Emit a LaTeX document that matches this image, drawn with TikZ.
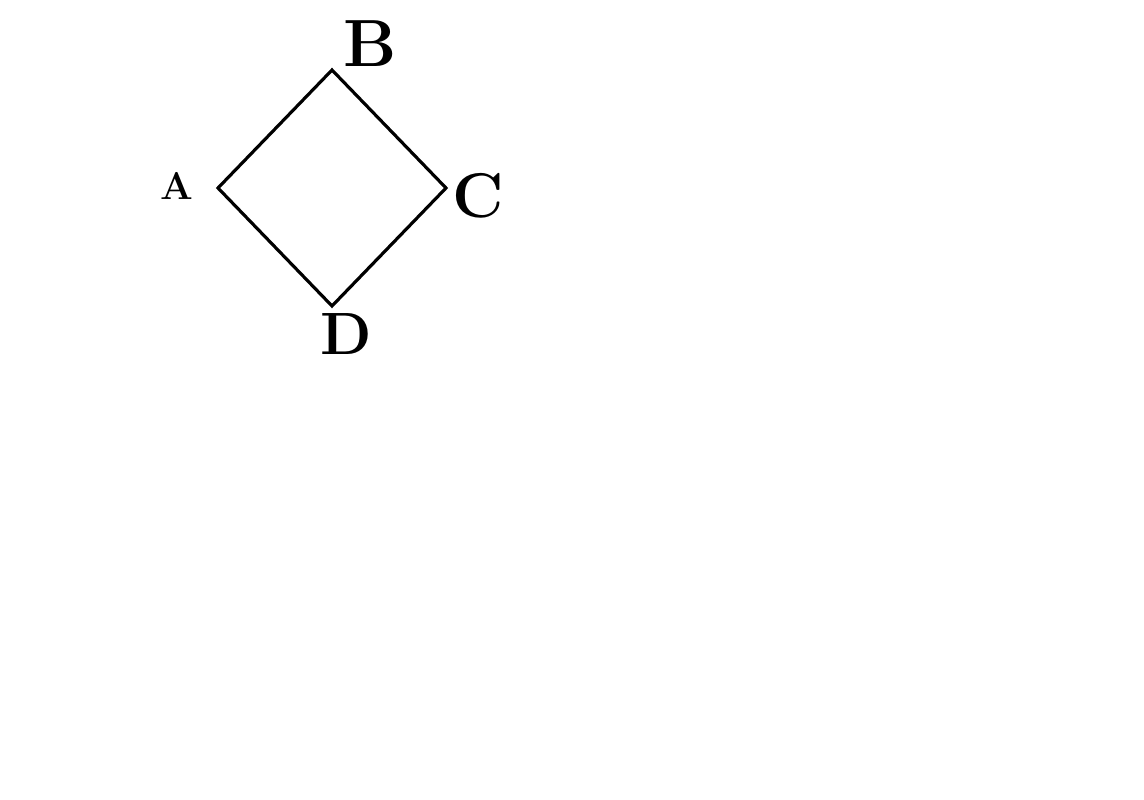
\documentclass[tikz,border=0pt]{standalone}
\begin{document}
\begin{tikzpicture}[x=0.02cm,y=-0.02cm,
  edge/.style={line width=1.8pt,line join=miter},
  lbl/.style={inner sep=0pt,font=\bfseries\fontsize{30}{32}\selectfont}]
\useasboundingbox[fill=white] (0,0) rectangle (1144,800);
\coordinate (a) at (218,188);
\coordinate (b) at (332,70);
\coordinate (c) at (446,188);
\coordinate (d) at (332,306);
\draw[edge] (a) -- (b) -- (c) -- (d) -- cycle;
\node[lbl,font=\bfseries\fontsize{22}{24}\selectfont] (la) at (177,186) {A};
\node[lbl,font=\bfseries\fontsize{38}{40}\selectfont] (lb) at (370,44) {B};
\node[lbl,font=\bfseries\fontsize{36}{38}\selectfont] (lc) at (478,196) {C};
\node[lbl,font=\bfseries\fontsize{34}{36}\selectfont] (ld) at (346,334) {D};
\end{tikzpicture}
\end{document}
